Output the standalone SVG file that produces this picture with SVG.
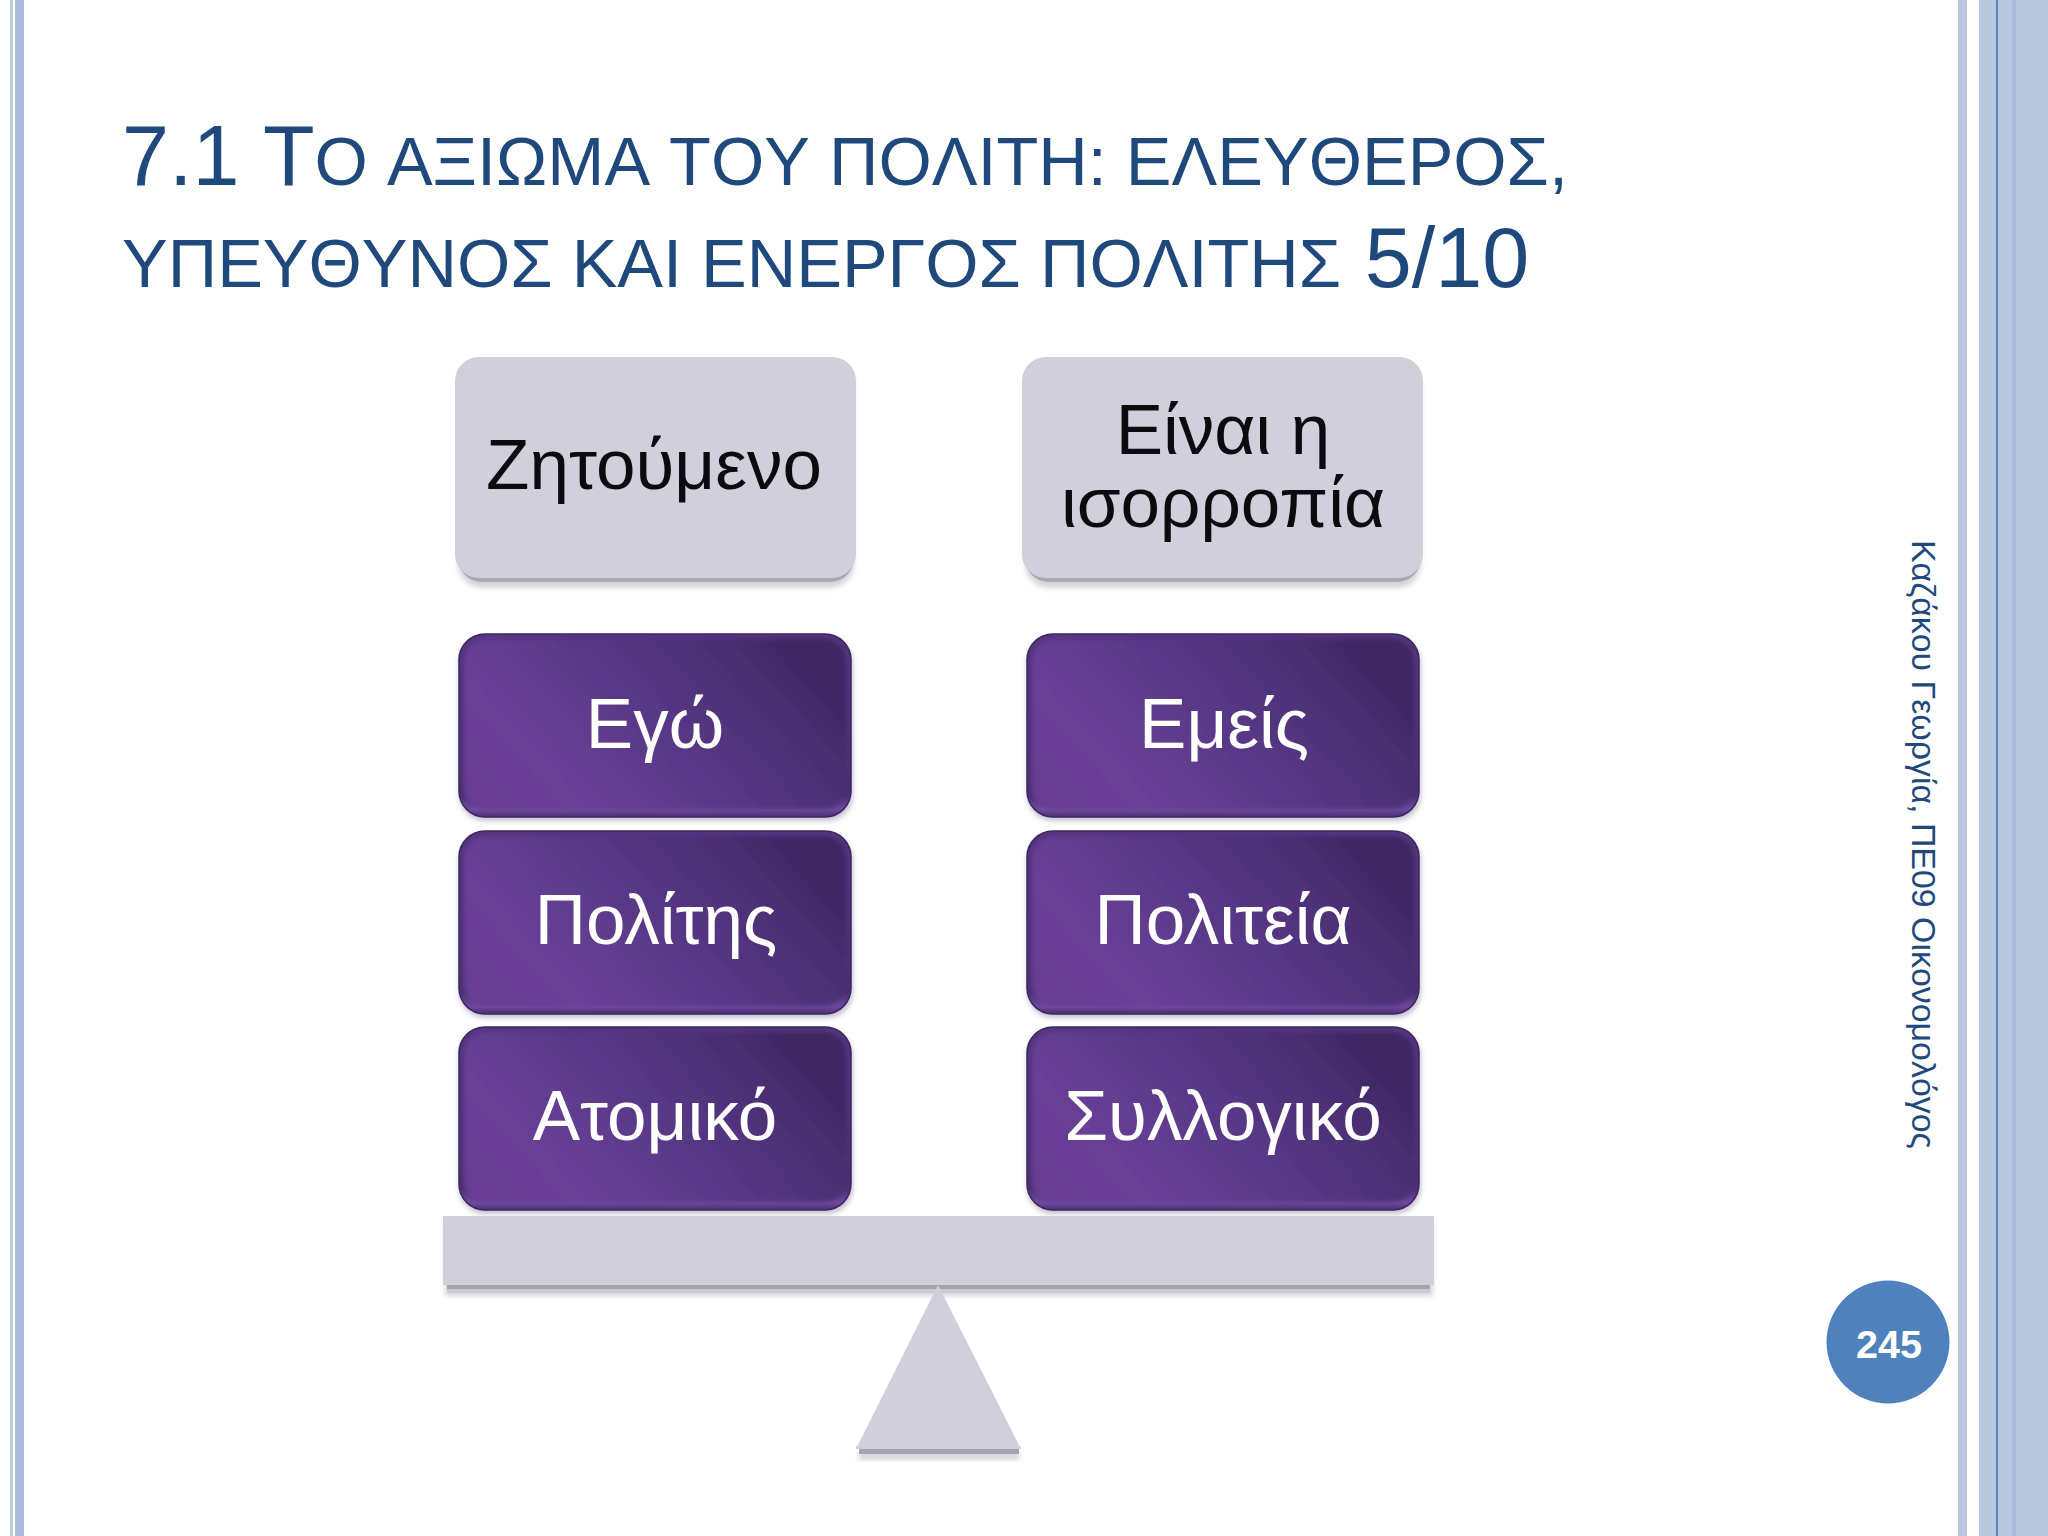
<svg xmlns="http://www.w3.org/2000/svg" width="2048" height="1536" viewBox="0 0 2048 1536">
<defs>
<linearGradient id="pg" x1="0.02" y1="0.8" x2="1" y2="0.4"><stop offset="0" stop-color="#683d93"/><stop offset="0.18" stop-color="#6a3f97"/><stop offset="0.55" stop-color="#573886"/><stop offset="0.85" stop-color="#4a2e72"/><stop offset="1" stop-color="#3c2662"/></linearGradient>
<linearGradient id="edge" x1="0" y1="0" x2="0" y2="1"><stop offset="0" stop-color="#553580"/><stop offset="0.88" stop-color="#4a2f72"/><stop offset="0.96" stop-color="#6f49a0"/><stop offset="1" stop-color="#4a2f72"/></linearGradient>
<filter id="soft" x="-5%" y="-10%" width="110%" height="125%"><feGaussianBlur stdDeviation="2.5"/></filter>
<filter id="inner" x="-3%" y="-5%" width="106%" height="110%"><feGaussianBlur stdDeviation="2.2"/></filter>
</defs>
<style>
.ttl{font-family:"Liberation Sans",Arial,sans-serif;fill:#1f497d;font-kerning:none}
.big{font-size:84.5px}.sm{font-size:68.5px}
.lbl{font-family:"Liberation Sans",Arial,sans-serif;font-size:71px;text-anchor:middle}
.dark{fill:#0a0a0f}.light{fill:#ffffff}
.gray{fill:#d0cfda}
.shade{fill:#a9a8b0}
.halo{fill:#c8c7ce;opacity:.75}
.outer{fill:url(#edge);stroke:#3b2860;stroke-width:1.5}
.face{fill:url(#pg)}
.pshadow{fill:#8d84a3;opacity:.5}
</style>
<rect width="2048" height="1536" fill="#ffffff"/>
<g id="frame">
<rect x="10" y="0" width="3" height="1536" fill="#bccbe4"/>
<rect x="15" y="0" width="9" height="1536" fill="#a9bcdc"/>
<rect x="1958" y="0" width="9" height="1536" fill="#bcc5de"/>
<rect x="1979" y="0" width="69" height="1536" fill="#b8c8df"/>
<rect x="1996" y="0" width="2" height="1536" fill="#5c82bb"/>
<rect x="2012" y="0" width="4" height="1536" fill="#abbada"/>
</g>
<g id="title">
<text class="ttl big" x="122" y="185">7.1 T<tspan class="sm">Ο ΑΞΙΩΜΑ ΤΟΥ ΠΟΛΙΤΗ: ΕΛΕΥΘΕΡΟΣ,</tspan></text>
<text class="ttl sm" x="122" y="287">ΥΠΕΥΘΥΝΟΣ ΚΑΙ ΕΝΕΡΓΟΣ ΠΟΛΙΤΗΣ<tspan class="big"> 5/10</tspan></text>
</g>
<g id="box-zitoumeno">
<rect class="halo" x="458" y="362" width="396" height="226" rx="24" filter="url(#soft)"/>
<rect class="shade" x="458" y="500" width="396" height="82" rx="24"/>
<rect class="gray" x="455" y="357" width="401" height="221" rx="24"/>
<text class="lbl dark" x="654" y="489">Ζητούμενο</text>
</g>
<g id="box-isorropia">
<rect class="halo" x="1025" y="362" width="396" height="226" rx="24" filter="url(#soft)"/>
<rect class="shade" x="1025" y="500" width="396" height="82" rx="24"/>
<rect class="gray" x="1022" y="357" width="401" height="221" rx="24"/>
<text class="lbl dark" x="1223" y="454">Είναι η</text>
<text class="lbl dark" x="1223" y="527">ισορροπία</text>
</g>
<g id="box-ego">
<rect class="pshadow" x="459" y="637" width="394" height="184" rx="26" filter="url(#soft)"/>
<rect class="outer" x="459" y="634" width="392" height="183" rx="26"/>
<rect class="face" x="464" y="639" width="382" height="170" rx="22" filter="url(#inner)"/>
<text class="lbl light" x="655" y="748">Εγώ</text>
</g>
<g id="box-polites">
<rect class="pshadow" x="459" y="834" width="394" height="184" rx="26" filter="url(#soft)"/>
<rect class="outer" x="459" y="831" width="392" height="183" rx="26"/>
<rect class="face" x="464" y="836" width="382" height="170" rx="22" filter="url(#inner)"/>
<text class="lbl light" x="656" y="944">Πολίτης</text>
</g>
<g id="box-atomiko">
<rect class="pshadow" x="459" y="1030" width="394" height="184" rx="26" filter="url(#soft)"/>
<rect class="outer" x="459" y="1027" width="392" height="183" rx="26"/>
<rect class="face" x="464" y="1032" width="382" height="170" rx="22" filter="url(#inner)"/>
<text class="lbl light" x="655" y="1140">Ατομικό</text>
</g>
<g id="box-emeis">
<rect class="pshadow" x="1027" y="637" width="394" height="184" rx="26" filter="url(#soft)"/>
<rect class="outer" x="1027" y="634" width="392" height="183" rx="26"/>
<rect class="face" x="1032" y="639" width="382" height="170" rx="22" filter="url(#inner)"/>
<text class="lbl light" x="1224" y="748">Εμείς</text>
</g>
<g id="box-politeia">
<rect class="pshadow" x="1027" y="834" width="394" height="184" rx="26" filter="url(#soft)"/>
<rect class="outer" x="1027" y="831" width="392" height="183" rx="26"/>
<rect class="face" x="1032" y="836" width="382" height="170" rx="22" filter="url(#inner)"/>
<text class="lbl light" x="1223" y="944">Πολιτεία</text>
</g>
<g id="box-syllogiko">
<rect class="pshadow" x="1027" y="1030" width="394" height="184" rx="26" filter="url(#soft)"/>
<rect class="outer" x="1027" y="1027" width="392" height="183" rx="26"/>
<rect class="face" x="1032" y="1032" width="382" height="170" rx="22" filter="url(#inner)"/>
<text class="lbl light" x="1223" y="1140">Συλλογικό</text>
</g>
<g id="scale-beam">
<rect class="halo" x="445" y="1222" width="988" height="74" filter="url(#soft)"/>
<rect class="gray" x="443" y="1216" width="991" height="69"/>
<rect x="447" y="1285" width="983" height="4" fill="#a5a4ac"/>
<rect x="447" y="1289" width="983" height="4" fill="#cbcad2"/>
</g>
<g id="scale-base">
<polygon class="gray" points="938,1285 1021,1449 856,1449"/>
<rect class="halo" x="859" y="1452" width="160" height="8" filter="url(#soft)"/>
<rect x="859" y="1449" width="160" height="5" fill="#a5a4ac"/>
<rect x="856" y="1446" width="165" height="3" fill="#d0cfda"/>
</g>
<g id="footer">
<text class="ttl" font-size="33.9" transform="translate(1912 540) rotate(90)">Καζάκου Γεωργία, ΠΕ09 Οικονομολόγος</text>
</g>
<g id="page-number">
<circle cx="1888" cy="1342" r="61.5" fill="#4f81bd"/>
<text x="1889" y="1358" font-family="'Liberation Sans',Arial,sans-serif" font-weight="700" font-size="39.5" fill="#ffffff" text-anchor="middle">245</text>
</g>
</svg>
